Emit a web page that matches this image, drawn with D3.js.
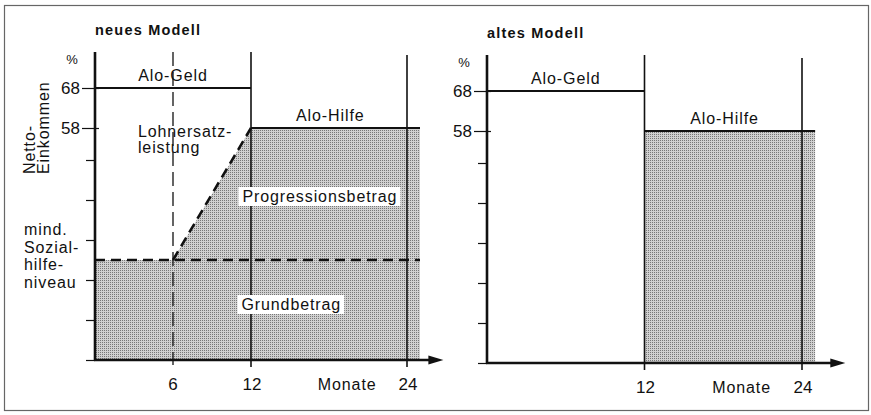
<!DOCTYPE html>
<html>
<head>
<meta charset="utf-8" />
<title>neues Modell / altes Modell</title>
<script src="https://cdn.jsdelivr.net/npm/d3@7/dist/d3.min.js"></script>
<style>
    body { margin: 0; background: #fff; }
    text { font-family: "Liberation Sans", Arial, Helvetica, sans-serif; fill: #111; }
    .lbl { font-size: 16px; letter-spacing: 0.9px; }
    .ttl { font-size: 14.5px; font-weight: bold; letter-spacing: 1.2px; }
</style>
</head>
<body>
<div id="chart"></div>
<script>
// Achsenwerte
const yTicks = [0, 10, 20, 30, 40, 50, 58, 68];
const yLabelled = [58, 68];
const xTicksNeu = [6, 12, 24];
const xTicksAlt = [12, 24];

// neues Modell (Monat, % Netto-Einkommen)
const neuGeld = [[0, 68], [12, 68]];
const neuHilfe = [[12, 58], [25, 58]];
const neuSozial = [[0, 25], [25, 25]];
const neuProgression = [[6, 25], [12, 58]];
const neuFlaeche = [[0, 25], [6, 25], [12, 58], [25, 58]];

// altes Modell
const altGeld = [[0, 68], [12, 68]];
const altHilfe = [[12, 58], [25, 58]];
const altFlaeche = [[12, 58], [25, 58]];

const W = 871, H = 415;
const svg = d3.select("#chart").append("svg").attr("width", W).attr("height", H);

// Rasterfläche
const pat = svg.append("defs").append("pattern")
    .attr("id", "raster").attr("width", 2).attr("height", 2)
    .attr("patternUnits", "userSpaceOnUse");
pat.append("rect").attr("width", 2).attr("height", 2).attr("fill", "#d0d0d0");
pat.append("rect").attr("width", 1).attr("height", 1).attr("fill", "#777");

// Rahmen
svg.append("rect").attr("x", 4.5).attr("y", 5.5).attr("width", 864).attr("height", 405)
    .attr("fill", "none").attr("stroke", "#666").attr("stroke-width", 1.2);

const line = (x, y) => d3.line().x(d => x(d[0])).y(d => y(d[1]));

function drawPanel(p) {
    const x = d3.scaleLinear().domain([0, 24]).range(p.xr);
    const y = d3.scaleLinear().domain([0, 68]).range([p.y0, p.y0 - 272]);
    const g = svg.append("g");
    const top = y(77), bottom = y(0);

    // Fläche
    g.append("path").datum(p.area)
        .attr("d", d3.area().x(d => x(d[0])).y0(bottom).y1(d => y(d[1])))
        .attr("fill", "url(#raster)");

    // senkrechte Linien
    p.guides.forEach(m => {
        g.append("line").attr("x1", x(m)).attr("x2", x(m))
            .attr("y1", top + (m === 24 ? 3 : 0)).attr("y2", bottom + 7)
            .attr("stroke", "#111").attr("stroke-width", 1.6);
    });
    if (p.dashedGuide) {
        g.append("line").attr("x1", x(p.dashedGuide)).attr("x2", x(p.dashedGuide))
            .attr("y1", top).attr("y2", bottom + 5)
            .attr("stroke", "#111").attr("stroke-width", 1.3)
            .attr("stroke-dasharray", "14,6");
    }

    // gestrichelte Linien
    (p.dashed || []).forEach(d => {
        g.append("path").datum(d).attr("d", line(x, y))
            .attr("fill", "none").attr("stroke", "#111").attr("stroke-width", 2.6)
            .attr("stroke-dasharray", "10,6");
    });

    // Niveaulinien
    [p.geld, p.hilfe].forEach(d => {
        g.append("path").datum(d).attr("d", line(x, y))
            .attr("fill", "none").attr("stroke", "#111").attr("stroke-width", 2.2);
    });

    // y-Achse
    const yAxis = d3.axisLeft(y).tickValues(yTicks).tickSize(9).tickFormat(d => yLabelled.includes(d) ? d : "");
    const ya = g.append("g").attr("transform", `translate(${x(0)},0)`).call(yAxis);
    ya.attr("font-size", null).attr("font-family", null);
    ya.select(".domain").remove();
    ya.selectAll(".tick line").attr("stroke", "#111").attr("stroke-width", 1.2)
        .attr("x1", d => yLabelled.includes(d) ? 4 : 0)
        .attr("x2", d => yLabelled.includes(d) ? -13 : -9);
    ya.selectAll(".tick text").attr("x", -15).attr("fill", "#111")
        .style("font-size", "17px");
    g.append("line").attr("x1", x(0)).attr("x2", x(0)).attr("y1", top).attr("y2", bottom + 1)
        .attr("stroke", "#111").attr("stroke-width", 2.6);
    g.append("text").attr("x", x(0) - 23).attr("y", top + 12)
        .attr("text-anchor", "middle").style("font-size", "13px").text("%");

    // x-Achse mit Pfeil
    const xEnd = x(p.arrowEnd);
    g.append("line").attr("x1", x(0) - 1).attr("x2", xEnd - 10).attr("y1", bottom).attr("y2", bottom)
        .attr("stroke", "#111").attr("stroke-width", 2.6);
    g.append("path")
        .attr("d", `M${xEnd},${bottom} L${xEnd - 15},${bottom - 4.5} L${xEnd - 15},${bottom + 4.5} Z`)
        .attr("fill", "#111");
    p.xTicks.forEach(m => {
        g.append("text").attr("x", x(m) + (m === 6 ? 0 : 1)).attr("y", bottom + 30)
            .attr("text-anchor", "middle").style("font-size", "17px").text(m);
    });
    g.append("text").attr("class", "lbl").attr("x", x(19.4)).attr("y", bottom + 30)
        .attr("text-anchor", "middle").text("Monate");

    // Beschriftungen
    g.append("text").attr("class", "ttl").attr("x", x(0)).attr("y", top - 17).text(p.title);
    g.append("text").attr("class", "lbl").attr("x", x(6)).attr("y", y(68) - 7)
        .attr("text-anchor", "middle").text("Alo-Geld");
    g.append("text").attr("class", "lbl").attr("x", x(18.1)).attr("y", y(58) - 7)
        .attr("text-anchor", "middle").text("Alo-Hilfe");

    return { g, x, y };
}

// neues Modell
const neu = drawPanel({
    title: "neues Modell", xr: [95, 407], y0: 360,
    area: neuFlaeche, geld: neuGeld, hilfe: neuHilfe,
    dashed: [neuSozial, neuProgression], guides: [12, 24], dashedGuide: 6,
    xTicks: xTicksNeu, arrowEnd: 26.8
});

// Textfelder mit weißem Hintergrund
function boxLabel(g, cx, cy, txt) {
    const t = g.append("text").attr("class", "lbl").attr("x", cx).attr("y", cy)
        .attr("text-anchor", "middle").text(txt);
    const b = t.node().getBBox();
    g.insert("rect", () => t.node()).attr("x", b.x - 4).attr("y", b.y - 1)
        .attr("width", b.width + 7).attr("height", b.height + 2).attr("fill", "#fff");
}
boxLabel(neu.g, neu.x(17.3), neu.y(39.5), "Progressionsbetrag");
boxLabel(neu.g, neu.x(15.1), neu.y(12.5), "Grundbetrag");

neu.g.append("text").attr("class", "lbl").attr("x", neu.x(3.3)).attr("y", neu.y(55.8)).text("Lohnersatz-");
neu.g.append("text").attr("class", "lbl").attr("x", neu.x(3.3)).attr("y", neu.y(51.8)).text("leistung");

["mind.", "Sozial-", "hilfe-", "niveau"].forEach((s, i) => {
    neu.g.append("text").attr("class", "lbl").attr("x", 24).attr("y", 235 + i * 17.6).text(s);
});

// y-Achsentitel
const yt = neu.g.append("text").attr("class", "lbl")
    .attr("transform", "translate(35,174) rotate(-90)");
yt.append("tspan").attr("x", 0).attr("y", 0).text("Netto-");
yt.append("tspan").attr("x", 0).attr("y", 14).text("Einkommen");

// altes Modell
drawPanel({
    title: "altes Modell", xr: [487, 802], y0: 363,
    area: altFlaeche, geld: altGeld, hilfe: altHilfe,
    dashed: [], guides: [12, 24], dashedGuide: null,
    xTicks: xTicksAlt, arrowEnd: 27.3
});
</script>
</body>
</html>
